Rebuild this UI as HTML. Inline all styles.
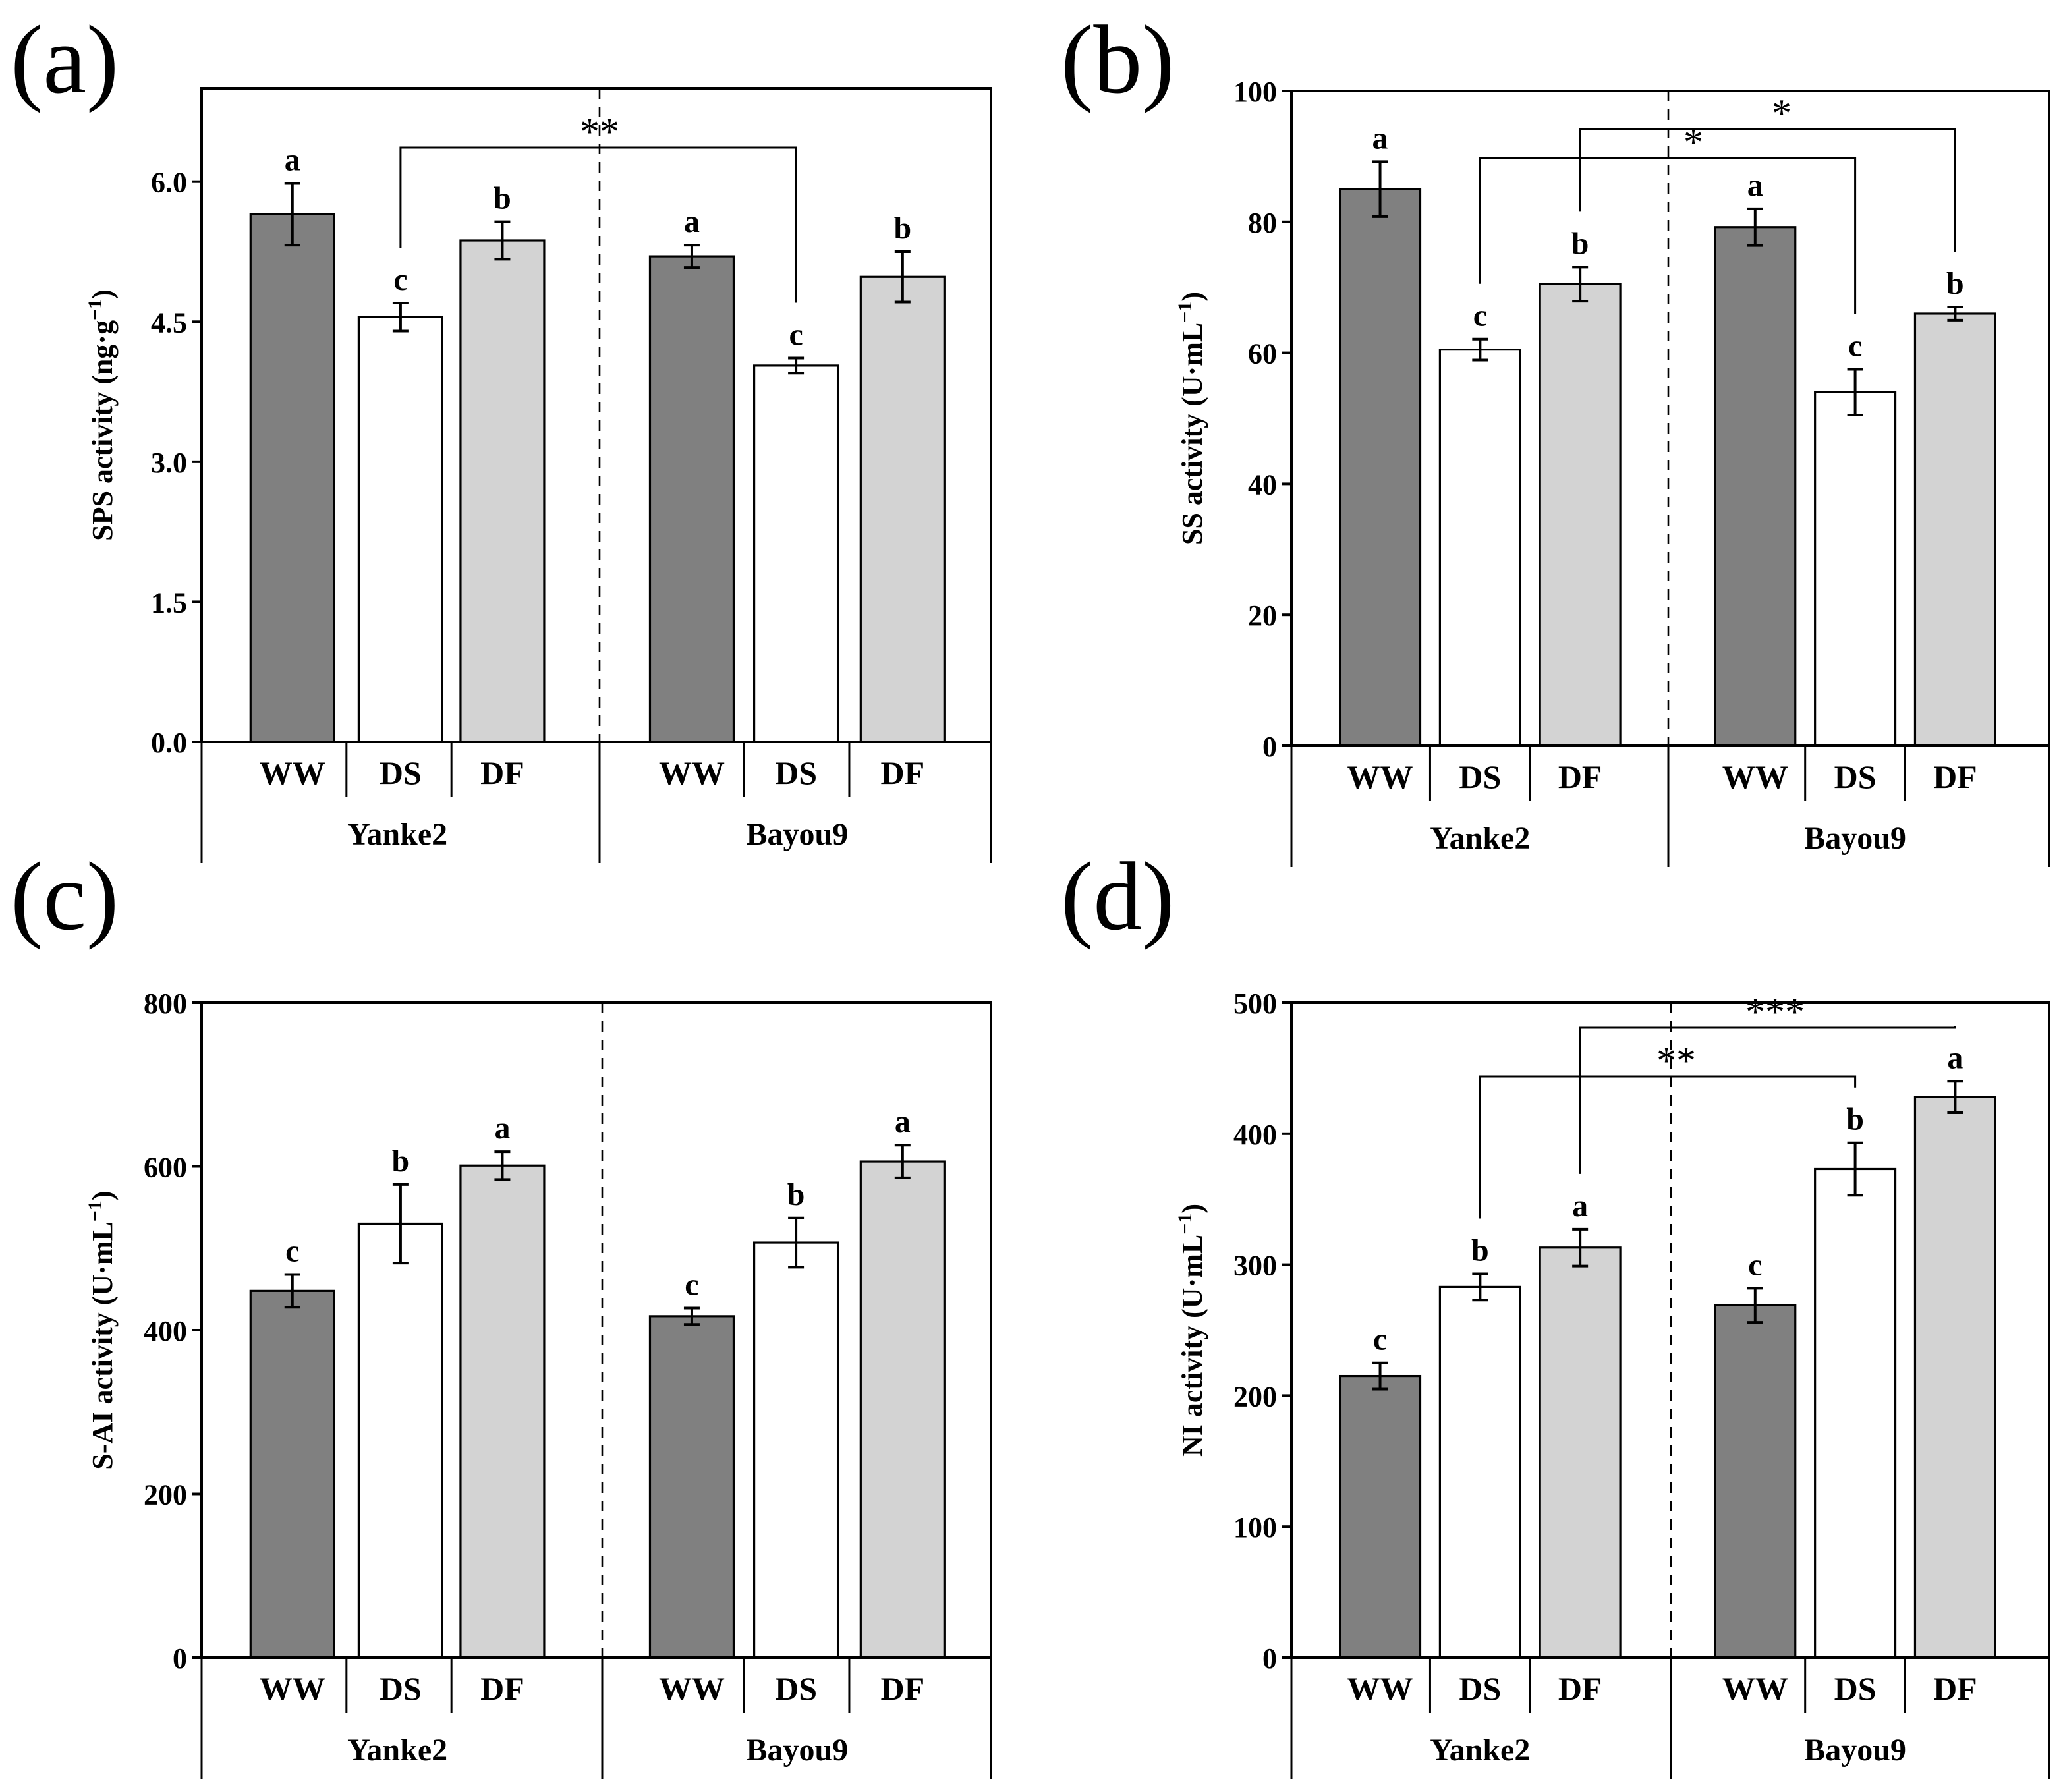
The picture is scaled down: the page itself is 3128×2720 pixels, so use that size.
<!DOCTYPE html>
<html><head><meta charset="utf-8"><style>
html,body{margin:0;padding:0;background:#fff}
svg{display:block}
text{font-family:"Liberation Serif",serif;font-weight:bold;fill:#000}
</style></head><body>
<svg id="fig" xmlns="http://www.w3.org/2000/svg" width="3128" height="2720" viewBox="0 0 1564 1360"></svg>
<script>
const categories = ["WW","DS","DF","WW","DS","DF"];
const groups = ["Yanke2","Bayou9"];
const valsA = [5.65,4.55,5.37,5.2,4.03,4.98];
const errA  = [0.33,0.15,0.2,0.12,0.08,0.27];
const letA  = ["a","c","b","a","c","b"];
const ticksA = [0,1.5,3.0,4.5,6.0];
const tickLabA = ["0.0","1.5","3.0","4.5","6.0"];
const valsB = [85,60.5,70.5,79.2,54,66];
const errB  = [4.2,1.6,2.6,2.8,3.5,1.0];
const letB  = ["a","c","b","a","c","b"];
const ticksB = [0,20,40,60,80,100];
const valsC = [448,530,601,417,507,606];
const errC  = [20,48,17,10,30,20];
const letC  = ["c","b","a","c","b","a"];
const ticksC = [0,200,400,600,800];
const valsD = [215,283,313,269,373,428];
const errD  = [10,10,14,13,20,12];
const letD  = ["c","b","a","c","b","a"];
const ticksD = [0,100,200,300,400,500];

const NS="http://www.w3.org/2000/svg";
const svg=document.getElementById('fig');
function mk(tag,attrs,parent,txt){const e=document.createElementNS(NS,tag);for(const k in attrs)e.setAttribute(k,attrs[k]);if(txt!==undefined)e.textContent=txt;(parent||svg).appendChild(e);return e;}
const fills=["#808080","#ffffff","#d3d3d3"];

function panel(o){
  const g=mk('g',{});
  
  
  const L=o.L,R=o.R,T=o.T,B=o.B,W=R-L;
  const y=v=>B-(v-0)/o.max*(B-T);
  const xs=o.pos.map(f=>L+f*W);
  const bw=W*0.106;
  const pl=mk('text',{x:o.lx,y:o.ly,'font-size':74,style:'font-weight:normal'},g,'('+o.id+')');
  
  
  const mid=L+W*(o.midFrac);
  const ds=mk('line',{x1:mid,y1:T,x2:mid,y2:B,stroke:'#000','stroke-width':1.3,'stroke-dasharray':'8,6'},g);
  
  
  o.vals.forEach((v,i)=>{
    const x=xs[i];
    const r=mk('rect',{x:x-bw/2,y:y(v),width:bw,height:B-y(v),fill:fills[i%3],stroke:'#000','stroke-width':1.6},g);
    
    
    const e=o.err[i],yt=y(v+e),yb=y(v-e);
    const eb=mk('path',{d:`M${x},${yt}V${yb}M${x-6},${yt}H${x+6}M${x-6},${yb}H${x+6}`,stroke:'#000','stroke-width':2,fill:'none'},g);
    
    
    const lt=mk('text',{x:x,y:yt-10,'font-size':24,'text-anchor':'middle'},g,o.lets[i]);
    
    
  });
  (o.brackets||[]).forEach(b=>{
    const x1=xs[b.i],x2=xs[b.j],yy=b.y;
    const y1=y(o.vals[b.i]+o.err[b.i])-42,y2=y(o.vals[b.j]+o.err[b.j])-42;
    const p=mk('path',{d:`M${x1},${y1}V${yy}H${x2}V${y2}`,stroke:'#000','stroke-width':1.5,fill:'none'},g);
    
    
    const s=mk('text',{x:b.sx,y:yy-2,'font-size':30,'text-anchor':'middle',style:'font-weight:normal'},g,b.s);
    
    
  });
  const fr=mk('rect',{x:L,y:T,width:W,height:B-T,fill:'none',stroke:'#000','stroke-width':2},g);
  
  
  o.ticks.forEach((t,k)=>{
    mk('line',{x1:L-7,y1:y(t),x2:L,y2:y(t),stroke:'#000','stroke-width':2},g);
    const tl=mk('text',{x:L-11,y:y(t)+8,'font-size':22,'text-anchor':'end'},g,o.tickLab?o.tickLab[k]:String(t));
    
    
  });
  const yt=mk('text',{x:0,y:0,'font-size':22,'text-anchor':'middle',transform:`translate(${L-68},${(T+B)/2}) rotate(-90)`},g);
  
  
  yt.innerHTML=o.title;
  const bot=B+92;
  mk('path',{d:`M${L},${B}V${bot}M${R},${B}V${bot}M${mid},${B}V${bot}`,stroke:'#000','stroke-width':1.5},g);
  const div=[(xs[0]+xs[1])/2,(xs[1]+xs[2])/2,(xs[3]+xs[4])/2,(xs[4]+xs[5])/2];
  div.forEach(d=>mk('line',{x1:d,y1:B,x2:d,y2:B+42,stroke:'#000','stroke-width':1.5},g));
  categories.forEach((c,i)=>{
    const t=mk('text',{x:xs[i],y:B+32,'font-size':25,'text-anchor':'middle'},g,c);
    
    
  });
  groups.forEach((gn,k)=>{
    const cx=k==0?(xs[0]+xs[2])/2:(xs[3]+xs[5])/2;
    const t=mk('text',{x:cx,y:B+78,'font-size':24,'text-anchor':'middle'},g,gn);
    
    
  });
}
const posA=[0.115,0.252,0.381,0.621,0.753,0.888];
const posB=[0.117,0.249,0.381,0.612,0.744,0.876];
panel({id:'a',L:153,R:752,T:67,B:563,max:7.0,pos:posA,vals:valsA,err:errA,lets:letA,ticks:ticksA,tickLab:tickLabA,lx:8,ly:70,midFrac:(455-153)/599,
  title:'SPS activity (ng·g<tspan baseline-shift="super" font-size="15">−1</tspan>)',
  brackets:[{i:1,j:4,y:112,s:'**',sx:455}]});
panel({id:'b',L:980,R:1555,T:69,B:566,max:100,pos:posB,vals:valsB,err:errB,lets:letB,ticks:ticksB,lx:805,ly:70,midFrac:(1266-980)/575,
  title:'SS activity (U·mL<tspan baseline-shift="super" font-size="15">−1</tspan>)',
  brackets:[{i:1,j:4,y:120,s:'*',sx:1285},{i:2,j:5,y:98,s:'*',sx:1352}]});
panel({id:'c',L:153,R:752,T:761,B:1258,max:800,pos:posA,vals:valsC,err:errC,lets:letC,ticks:ticksC,lx:8,ly:705,midFrac:(457-153)/599,
  title:'S-AI activity (U·mL<tspan baseline-shift="super" font-size="15">−1</tspan>)'});
panel({id:'d',L:980,R:1555,T:761,B:1258,max:500,pos:posB,vals:valsD,err:errD,lets:letD,ticks:ticksD,lx:805,ly:705,midFrac:(1268-980)/575,
  title:'NI activity (U·mL<tspan baseline-shift="super" font-size="15">−1</tspan>)',
  brackets:[{i:1,j:4,y:817,s:'**',sx:1272},{i:2,j:5,y:780,s:'***',sx:1347}]});
</script>
</body></html>
